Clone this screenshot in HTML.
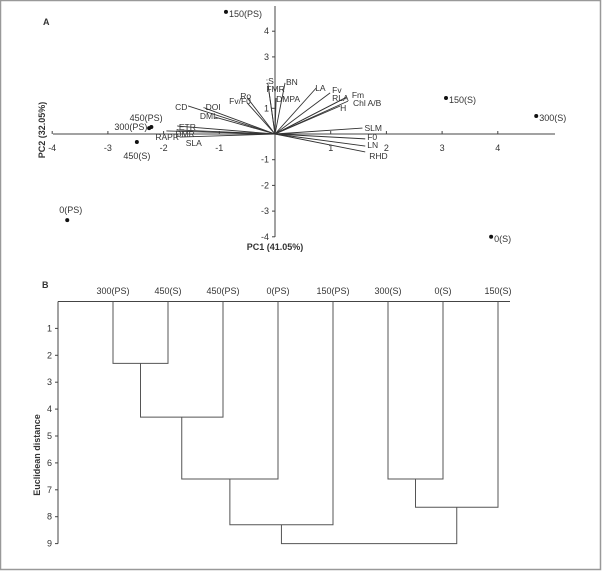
<!DOCTYPE html>
<html><head><meta charset="utf-8"><style>
html,body{margin:0;padding:0;background:#fff;}
svg{display:block;font-family:"Liberation Sans",sans-serif;}
text{fill:#333;}
</style></head><body>
<svg id="chart" width="602" height="571" viewBox="0 0 602 571">
<rect x="0.5" y="0.5" width="600" height="569" fill="#fff" stroke="#999" stroke-width="1.5"/>
<g id="pca"></g>
<g id="dendro"></g>
</svg>
<script>
const NS='http://www.w3.org/2000/svg';
// PCA data
const scoreLabels=['150(PS)','450(PS)','300(PS)','450(S)','0(PS)','150(S)','300(S)','0(S)'];
const scoreX=[-0.88,-2.26,-2.22,-2.48,-3.73,3.07,4.69,3.88];
const scoreY=[4.75,0.23,0.27,-0.31,-3.35,1.40,0.70,-4.0];
const varLabels=['CD','-DOI','DML','Ro','Fv/F0',':S','FMR','BN','DMPA','LA','Fv','RLA','Fm','Chl A/B','H','SLM','F0','LN','RHD',':ETR','DMR','RAPR','SLA'];
const varX=[-1.56,-1.26,-1.08,-0.48,-0.50,-0.13,-0.12,0.18,0.02,0.74,0.99,1.26,1.29,1.31,1.17,1.57,1.62,1.62,1.62,-1.75,-1.77,-1.95,-1.71];
const varY=[1.09,1.01,0.66,1.36,1.21,1.99,1.83,1.99,1.40,1.79,1.60,1.40,1.44,1.28,1.09,0.23,-0.19,-0.47,-0.70,0.31,0.16,0.12,-0.12];
const xTicks=[-4,-3,-2,-1,1,2,3,4];
const yTicks=[4,3,1,-1,-2,-3,-4];
// label offsets (layout only)
const lblDX=[-13,-2,-15,-8,-18,-2,-2,1,0,-1,2,-13,5,5,0,2,2,2,4,-1,-1,-11,6];
const lblDY=[4,2,2,0,1,1,5,2,4,3,0,3,1,5,5,3,1,2,7,4,7,9,9];
// Dendrogram data
const leaves=['300(PS)','450(S)','450(PS)','0(PS)','150(PS)','300(S)','0(S)','150(S)'];
const mergeA=[0,8,9,10,5,12,11];
const mergeB=[1,2,3,4,6,7,13];
const mergeH=[2.3,4.3,6.6,8.3,6.6,7.65,9.0];
const dTicks=[1,2,3,4,5,6,7,8,9];

const ox=275, oy=134, ux=55.7, uy=25.7;
const px=v=>ox+v*ux, py=v=>oy-v*uy;
function el(tag,attrs,parent,txt){const e=document.createElementNS(NS,tag);for(const k in attrs)e.setAttribute(k,attrs[k]);if(txt!==undefined)e.textContent=txt;parent.appendChild(e);return e;}
const A=document.getElementById('pca');
let e;
e=el('line',{x1:53,y1:oy,x2:555,y2:oy,stroke:'#444','stroke-width':1},A);

e=el('line',{x1:ox,y1:6,x2:ox,y2:237,stroke:'#444','stroke-width':1},A);

xTicks.forEach(t=>{
  e=el('line',{x1:px(t),y1:oy,x2:px(t),y2:oy-3,stroke:'#444'},A);
  
  e=el('text',{x:px(t),y:oy+17,'font-size':9,'text-anchor':'middle'},A,String(t));
  
});
yTicks.forEach(t=>{
  e=el('line',{x1:ox,y1:py(t),x2:ox-3,y2:py(t),stroke:'#444'},A);
  
  e=el('text',{x:ox-6,y:py(t)+3,'font-size':9,'text-anchor':'end'},A,String(t));
  
});
varLabels.forEach((l,i)=>{
  const x=px(varX[i]),y=py(varY[i]);
  e=el('line',{x1:ox,y1:oy,x2:x,y2:y,stroke:'#333','stroke-width':0.9},A);
  
  e=el('text',{x:x+lblDX[i],y:y+lblDY[i],'font-size':8.5,'text-anchor':'start'},A,l);
  
});
scoreLabels.forEach((l,i)=>{
  const x=px(scoreX[i]),y=py(scoreY[i]);
  e=el('circle',{cx:x,cy:y,r:2,fill:'#111'},A);
  
  let tx=x+3,ty=y+5,anc='start';
  if(l==='450(PS)'){tx=x-3;ty=y-7;anc='middle';}
  if(l==='300(PS)'){tx=x-4;ty=y+3;anc='end';}
  if(l==='450(S)'){tx=x;ty=y+17;anc='middle';}
  if(l==='0(PS)'){tx=x-8;ty=y-7;}
  e=el('text',{x:tx,y:ty,'font-size':9,'text-anchor':anc},A,l);
  
});
e=el('text',{x:275,y:250,'font-size':9,'font-weight':'bold','text-anchor':'middle'},A,'PC1 (41.05%)');

e=el('text',{x:0,y:0,'font-size':9,'font-weight':'bold','text-anchor':'middle',transform:'translate(45,130) rotate(-90)'},A,'PC2 (32.05%)');

e=el('text',{x:43,y:25,'font-size':9,'font-weight':'bold'},A,'A');


// Dendrogram
const D=document.getElementById('dendro');
const dx0=113, dxs=55, dy0=301.5, dus=26.9;
const dxp=i=>dx0+i*dxs, dyp=h=>dy0+h*dus;
e=el('line',{x1:58,y1:dy0,x2:510,y2:dy0,stroke:'#444'},D);

e=el('line',{x1:58,y1:dy0,x2:58,y2:dyp(9),stroke:'#444'},D);

dTicks.forEach(t=>{
  e=el('line',{x1:58,y1:dyp(t),x2:55,y2:dyp(t),stroke:'#444'},D);
  
  e=el('text',{x:52,y:dyp(t)+3,'font-size':9,'text-anchor':'end'},D,String(t));
  
});
const nx=[],nh=[];
leaves.forEach((l,i)=>{nx[i]=dxp(i);nh[i]=0;
  e=el('text',{x:dxp(i),y:294,'font-size':9,'text-anchor':'middle'},D,l);
  
});
mergeH.forEach((h,k)=>{
  const a=mergeA[k],b=mergeB[k],id=8+k;
  const p=`M${nx[a]},${dyp(nh[a])}V${dyp(h)}H${nx[b]}V${dyp(nh[b])}`;
  e=el('path',{d:p,fill:'none',stroke:'#555','stroke-width':1},D);
  
  nx[id]=(nx[a]+nx[b])/2;nh[id]=h;
});
e=el('text',{x:0,y:0,'font-size':9,'font-weight':'bold','text-anchor':'middle',transform:'translate(40,455) rotate(-90)'},D,'Euclidean distance');

e=el('text',{x:42,y:288,'font-size':9,'font-weight':'bold'},D,'B');

</script>
</body></html>
